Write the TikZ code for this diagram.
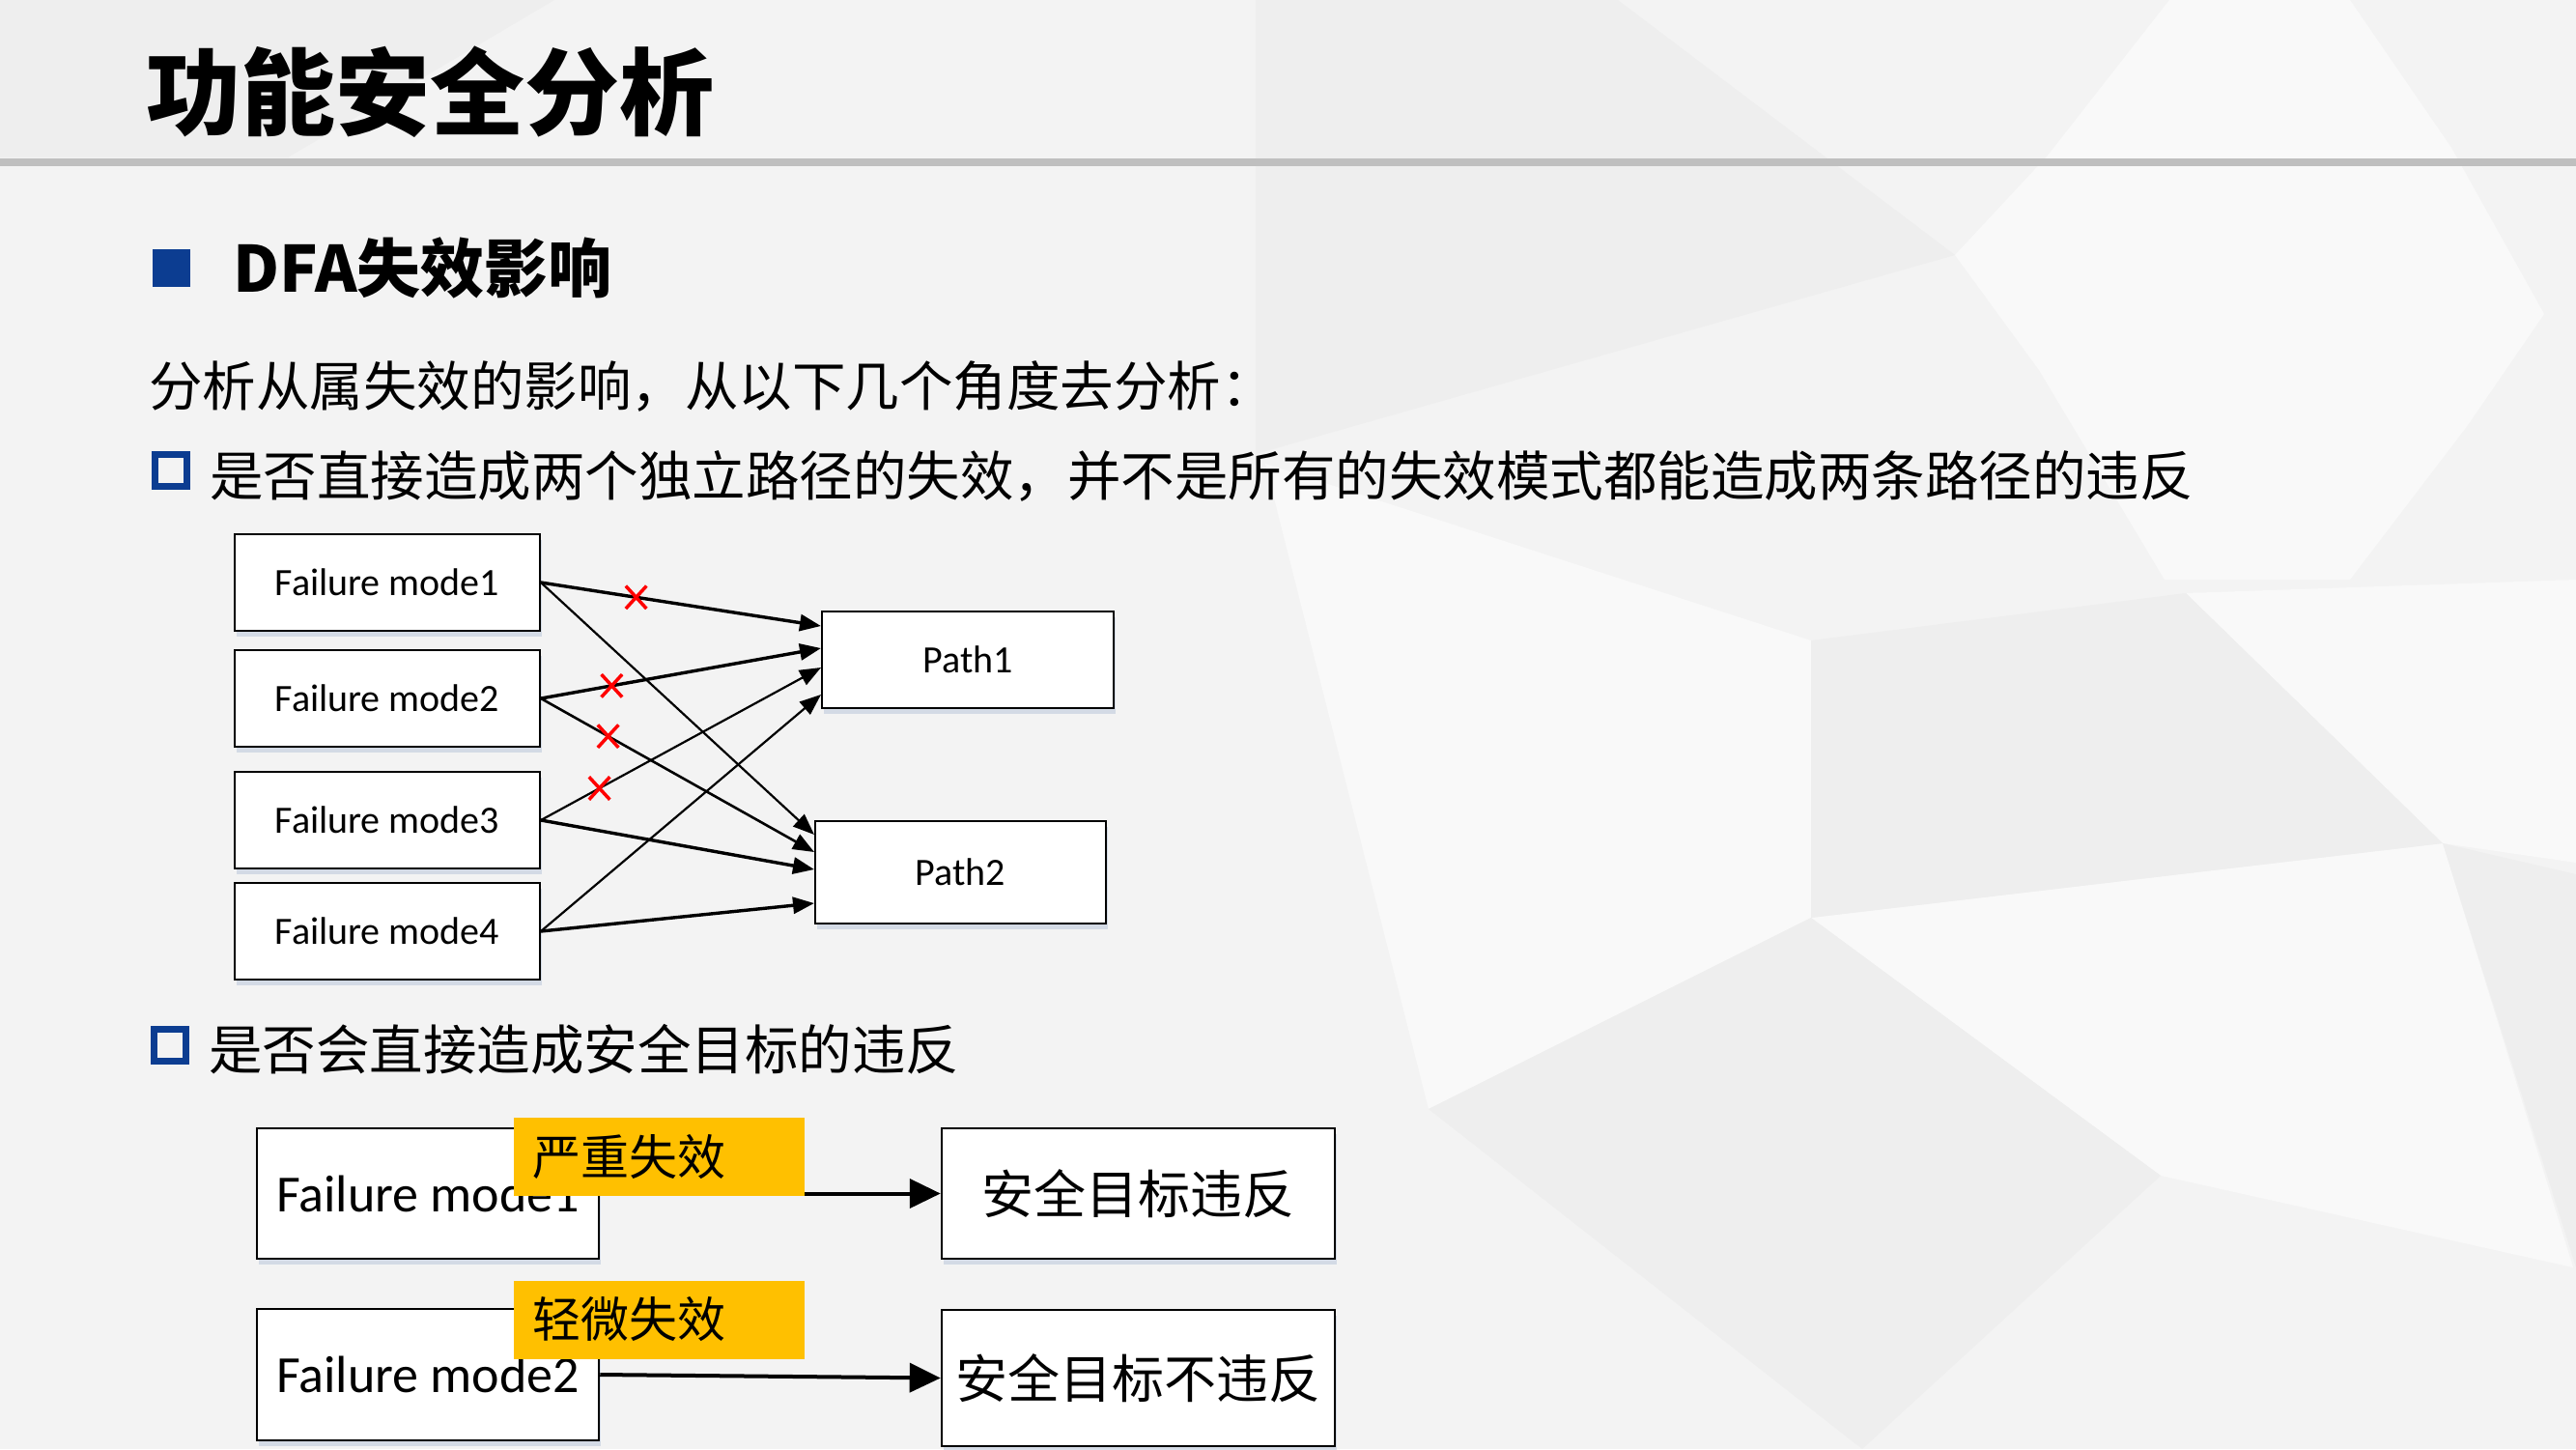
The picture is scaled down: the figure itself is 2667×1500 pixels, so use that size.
\documentclass[tikz,border=0pt]{standalone}
\usepackage{fontspec}
\newfontfamily\cjk{Noto Sans CJK SC}
\newfontfamily\calf{Carlito}
\usetikzlibrary{arrows.meta,shapes.misc,shadows,calc}
\definecolor{bgbase}{RGB}{243,243,243}
\definecolor{bglight}{RGB}{249,249,249}
\definecolor{bgdark}{RGB}{238,238,238}
\definecolor{rulegray}{RGB}{191,191,191}
\definecolor{bulletblue}{RGB}{12,61,145}
\definecolor{orangefill}{RGB}{255,192,0}
\definecolor{shadowc}{RGB}{190,202,220}
\definecolor{xred}{RGB}{255,0,0}
\tikzset{
  boxbase/.style={draw=black, fill=white, inner sep=0pt,
    drop shadow={shadow xshift=2pt, shadow yshift=-6pt, opacity=0.6, fill=shadowc}},
  fmbox/.style={boxbase, line width=2pt, minimum width=316pt, minimum height=100pt,
    font=\calf\fontsize{40}{48}\selectfont},
  pathbox/.style={boxbase, line width=2pt, minimum width=302pt, minimum height=100pt,
    font=\calf\fontsize{40}{48}\selectfont},
  bigbox/.style={boxbase, line width=2.5pt, minimum width=354pt, minimum height=135pt,
    font=\calf\fontsize{54}{62}\selectfont},
  goalbox/.style={boxbase, line width=2.5pt, minimum width=407pt, minimum height=135pt,
    font=\cjk\fontsize{54}{62}\selectfont},
  tag/.style={fill=orangefill, inner sep=0pt, minimum width=301pt, minimum height=81pt,
    text width=263pt, align=left, font=\cjk\fontsize{50}{58}\selectfont},
  thickarr/.style={line width=3.4pt, -{Triangle[length=22pt,width=17pt]}},
  thinarr/.style={line width=2.2pt, -{Triangle[length=22pt,width=17pt]}},
  midarr/.style={line width=2.6pt, -{Triangle[length=22pt,width=17pt]}},
  bigarr/.style={line width=4pt, -{Triangle[length=32pt,width=30pt]}},
  xmark/.style={cross out, draw=xred, line width=3.5pt, minimum width=18pt,
    minimum height=20pt, inner sep=0pt},
  linetext/.style={anchor=base west, inner sep=0pt, text=black},
  fullbullet/.style={fill=bulletblue, minimum size=39pt, inner sep=0pt},
  openbullet/.style={draw=bulletblue, line width=7pt, minimum size=33pt, inner sep=0pt}
}
\begin{document}
\begin{tikzpicture}[x=1pt,y=-1pt]
\useasboundingbox (0,0) rectangle (2667,1500);
% background
\fill[bgbase] (0,0) rectangle (2667,1500);
\fill[bgdark] (0,0) -- (574,0) -- (298,163) -- (0,163) -- cycle;
\fill[bgdark] (1300,0) -- (1675,0) -- (2024,264) -- (1300,470) -- cycle;
\fill[bglight] (2246,0) -- (2433,0) -- (2538,153) -- (2634,325) -- (2555,440) -- (2433,600) -- (2241,600) -- (2111,383) -- (2024,264) -- (2120,161) -- cycle;
\fill[bglight] (2263,614) -- (2667,600) -- (2667,893) -- (2529,873) -- cycle;
\fill[bglight] (1310,480) -- (1875,663) -- (1875,950) -- (1479,1148) -- cycle;
\fill[bglight] (1875,950) -- (2529,873) -- (2664,1312) -- (2237,1217) -- cycle;
\fill[bgdark] (1875,663) -- (2263,614) -- (2529,873) -- (1875,950) -- cycle;
\fill[bgdark] (1875,950) -- (2237,1217) -- (1928,1500) -- (1479,1148) -- cycle;
\fill[bgdark] (2529,873) -- (2667,905) -- (2667,1312) -- cycle;
% title and rule
\node[linetext, font=\cjk\bfseries\fontsize{98}{110}\selectfont] (title) at (151,132) {功能安全分析};
\draw[rulegray, line width=8pt] (0,167.5) -- (2667,167.5);
% heading
\node[fullbullet] (b0) at (177.5,277.5) {};
\node[linetext, font=\cjk\bfseries\fontsize{66}{76}\selectfont] (h1) at (241,302) {DFA失效影响};
\node[linetext, font=\cjk\fontsize{55.5}{64}\selectfont] (p0) at (154,420) {分析从属失效的影响，从以下几个角度去分析：};
\node[openbullet] (b1) at (177,487) {};
\node[linetext, font=\cjk\fontsize{55.5}{64}\selectfont] (q1) at (217,513) {是否直接造成两个独立路径的失效，并不是所有的失效模式都能造成两条路径的违反};
% upper diagram
\node[fmbox] (fm1) at (401,603) {Failure mode1};
\node[fmbox] (fm2) at (401,723) {Failure mode2};
\node[fmbox] (fm3) at (401,849) {Failure mode3};
\node[fmbox] (fm4) at (401,964) {Failure mode4};
\node[pathbox] (p1) at (1002,683) {Path1};
\node[pathbox, minimum width=301pt, minimum height=106pt] (p2) at (994.5,903) {Path2};
\draw[thickarr] (fm1.east) -- node[xmark, pos=0.34] (x1) {} ($(p1.west)+(0,-35)$);
\draw[thinarr] (fm1.east) -- ($(p2.west)+(0,-39)$);
\draw[thickarr] (fm2.east) -- node[xmark, pos=0.253] (x2) {} ($(p1.west)+(0,-12)$);
\draw[midarr] (fm2.east) -- node[xmark, pos=0.246] (x3) {} ($(p2.west)+(0,-21)$);
\draw[thinarr] (fm3.east) -- node[xmark, pos=0.209] (x4) {} ($(p1.west)+(0,8)$);
\draw[thickarr] (fm3.east) -- ($(p2.west)+(0,-3)$);
\draw[thinarr] (fm4.east) -- ($(p1.west)+(0,36)$);
\draw[thickarr] (fm4.east) -- ($(p2.west)+(0,32)$);
% second question
\node[openbullet] (b2) at (176,1081.5) {};
\node[linetext, font=\cjk\fontsize{55.5}{64}\selectfont] (q2) at (216,1107) {是否会直接造成安全目标的违反};
% lower diagram
\node[bigbox] (fb1) at (443,1235.5) {Failure mode1};
\node[bigbox, minimum height=136pt] (fb2) at (443,1423) {Failure mode2};
\node[goalbox] (t1) at (1178.5,1235.5) {安全目标违反};
\node[goalbox, minimum height=141pt] (t2) at (1178.5,1426.5) {安全目标不违反};
\draw[bigarr] (fb1.east) -- (t1.west);
\draw[bigarr] (fb2.east) -- (t2.west);
\node[tag] (o1) at (682.5,1197.5) {严重失效};
\node[tag] (o2) at (682.5,1366) {轻微失效};
\end{tikzpicture}
\end{document}
